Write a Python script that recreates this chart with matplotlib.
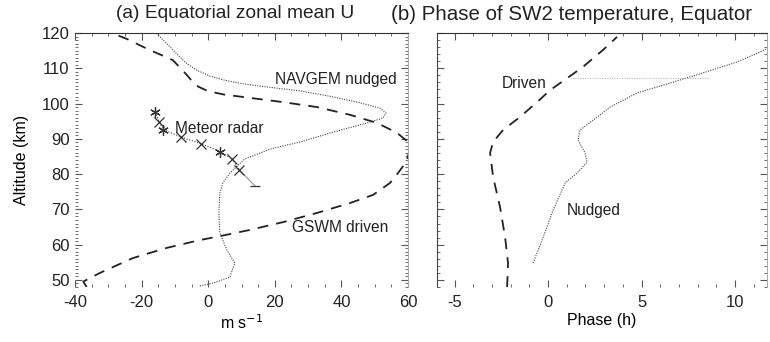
import numpy as np
import matplotlib
matplotlib.use("Agg")
import matplotlib.pyplot as plt
from matplotlib.ticker import MultipleLocator

plt.rcParams['font.family'] = ['Liberation Sans', 'DejaVu Sans']
plt.rcParams['axes.unicode_minus'] = False

# (a) zonal mean U profiles
gswm_u = [-36.5, -37.5, -37.0, -32.5, -22.6, -12.4, -2.5, 5.0, 12.6, 22.5, 32.7,
          42.6, 49.5, 54.6, 57.0, 59.5, 60.5, 59.5, 56.7, 50.7, 42.6, 32.7, 22.5,
          12.6, 4.5, 0.0, -3.0, -4.8, -6.6, -10.6, -18.3, -24.4, -29.5]
gswm_z = [48.0, 49.5, 49.8, 52.0, 56.2, 59.1, 61.3, 62.7, 64.2, 66.4, 69.0,
          71.8, 74.1, 77.5, 80.3, 83.5, 86.8, 89.5, 91.7, 94.5, 96.8, 99.0, 100.4,
          101.6, 102.6, 103.5, 104.8, 106.3, 108.3, 112.3, 115.5, 118.3, 120.2]

navgem_u = [-2.5, 1.4, 6.5, 8.0, 5.6, 3.5, 3.2, 3.5, 4.4, 6.5, 11.0, 19.0, 27.6,
            37.5, 47.7, 52.5, 53.4, 51.6, 45.6, 37.5, 27.6, 17.7, 10.5, 5.0,
            0.5, -3.5, -6.8, -10.6, -15.5, -16.0]
navgem_z = [48.3, 49.1, 50.8, 54.8, 58.5, 63.3, 69.0, 74.6, 77.5, 80.3, 84.3, 87.2, 89.1,
            91.9, 94.5, 95.9, 97.3, 98.7, 100.2, 101.9, 103.6, 104.7, 105.6, 106.6,
            107.8, 109.5, 111.6, 115.2, 119.9, 121.0]

radar_u = [-15.9, -14.7, -13.5, -8.1, -2.1, 3.6, 7.2, 9.3, 14.1]
radar_z = [97.6, 94.8, 92.6, 90.5, 88.6, 86.4, 84.3, 81.3, 76.6]
radar_mk = ['ast', 'x', 'ast', 'x', 'x', 'ast', 'x', 'x', '_']

# (b) SW2 temperature phase
driven_ph = [-2.19, -2.14, -2.30, -2.57, -2.94, -3.10, -2.94, -2.41, -1.50, -0.59,
             0.11, 1.02, 1.87, 2.94, 3.69]
driven_z = [48.0, 54.8, 62.2, 70.7, 79.2, 86.0, 89.1, 92.5, 96.2, 100.4,
            103.8, 107.2, 110.4, 115.2, 118.9]

nudged_ph = [-0.80, -0.32, 0.27, 0.91, 1.55, 2.09, 1.98, 1.60, 1.71, 2.41, 3.32,
             4.76, 6.52, 8.29, 10.11, 11.34, 11.87, 12.7]
nudged_z = [54.8, 61.3, 69.8, 77.5, 80.3, 83.4, 86.0, 89.7, 92.5, 95.3, 99.0,
            103.0, 105.8, 108.7, 111.8, 114.6, 116.0, 118.0]

wrap_ph = [1.2, 8.6]
wrap_z = [107.2, 107.2]

fig = plt.figure(figsize=(7.7, 3.42), dpi=100)
ax1 = fig.add_axes([75 / 770, 55 / 342, 333 / 770, 254 / 342])
ax2 = fig.add_axes([437 / 770, 55 / 342, 330 / 770, 254 / 342])

asterisk = (6, 2, 0)

ax1.plot(gswm_u, gswm_z, color='#222222', ls=(0, (6, 4.5)), lw=1.3)
ax1.plot(navgem_u, navgem_z, color='#444444', ls=(0, (1, 1.2)), lw=0.8)
ax1.plot(radar_u[:-1], radar_z[:-1], color='#444444', ls=(0, (1, 1.5)), lw=0.8)
ax1.plot(radar_u[-2:], radar_z[-2:], color='#888888', lw=0.7)
for u, z, m in zip(radar_u, radar_z, radar_mk):
    ax1.plot(u, z, marker=asterisk if m == 'ast' else m, color='#333333',
             ms=7.5 if m == 'ast' else 6.5, mew=0.9)

ax1.text(20, 106.8, 'NAVGEM nudged', fontsize=11.2, va='center', color='#222222')
ax1.text(-10, 92.8, 'Meteor radar', fontsize=11.2, va='center', color='#222222')
ax1.text(25.3, 65, 'GSWM driven', fontsize=11.2, va='center', color='#222222')

ax1.set_xlim(-40, 60)
ax1.set_ylim(48, 120)
ax1.set_xticks([-40, -20, 0, 20, 40, 60])
ax1.set_yticks(range(50, 121, 10))
ax1.xaxis.set_minor_locator(MultipleLocator(5))
ax1.yaxis.set_minor_locator(MultipleLocator(1))
ax1.set_xlabel('m s$^{-1}$', fontsize=11.5, labelpad=2)
ax1.set_ylabel('Altitude (km)', fontsize=11.5, labelpad=9)

ax2.plot(driven_ph, driven_z, color='#222222', ls=(0, (6, 4.5)), lw=1.3)
ax2.plot(nudged_ph, nudged_z, color='#444444', ls=(0, (1, 1.2)), lw=0.8)
ax2.plot(wrap_ph, wrap_z, color='#bbbbbb', ls=(0, (1, 1.2)), lw=0.8)
ax2.text(-2.46, 105.8, 'Driven', fontsize=11.2, va='center', color='#222222')
ax2.text(1.02, 69.8, 'Nudged', fontsize=11.2, va='center', color='#222222')

ax2.set_xlim(-5.94, 11.71)
ax2.set_ylim(48, 120)
ax2.set_xticks([-5, 0, 5, 10])
ax2.set_yticks(range(50, 121, 10))
ax2.set_yticklabels([])
ax2.xaxis.set_minor_locator(MultipleLocator(1))
ax2.yaxis.set_minor_locator(MultipleLocator(2))
ax2.set_xlabel('Phase (h)', fontsize=11.5, labelpad=2)

fig.text(235 / 770, 1 - 14 / 342, '(a) Equatorial zonal mean U', fontsize=13.8,
         ha='center', va='center', color='#222222')
fig.text(391 / 770, 1 - 14 / 342, '(b) Phase of SW2 temperature, Equator',
         fontsize=14.8, ha='left', va='center', color='#222222')

for ax in (ax1, ax2):
    ax.tick_params(which='both', direction='in', top=True, right=True,
                   labelsize=12, colors='#555555', pad=6)
    ax.tick_params(which='major', length=5, width=0.8)
    ax.tick_params(which='minor', length=2.5, width=0.6)
    ax.tick_params(axis='both', labelcolor='#222222')
    ax.spines['top'].set_color('#333333')
    ax.spines['bottom'].set_visible(False)
ax1.tick_params(axis='y', pad=4)
ax1.spines['left'].set_visible(False)
ax1.spines['right'].set_color('#aaaaaa')
ax2.spines['left'].set_color('#444444')
ax2.spines['right'].set_color('#aaaaaa')

fig.savefig('out.png', dpi=100)
